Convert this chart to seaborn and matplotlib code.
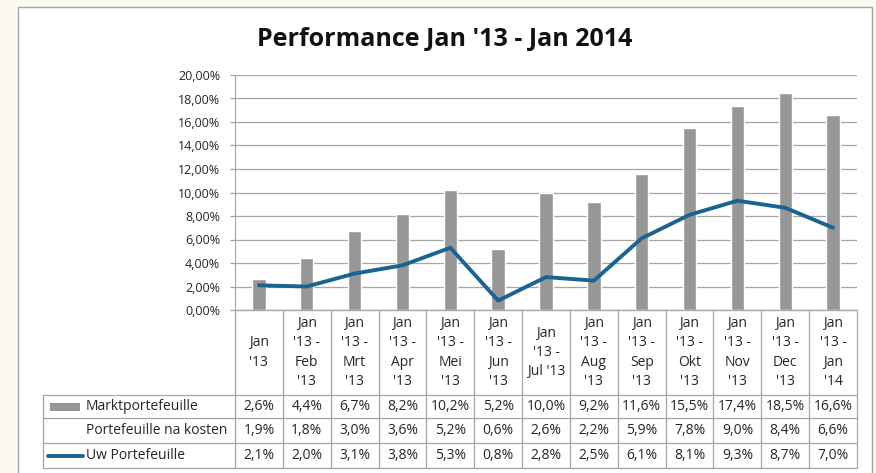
import matplotlib
matplotlib.use("Agg")
import matplotlib.pyplot as plt
from matplotlib.patches import Rectangle
from matplotlib.ticker import FuncFormatter, MultipleLocator
import seaborn as sns
import pandas as pd

# Data uit de tabel onder de grafiek
periodes = ["Jan\n'13", "Jan\n'13 -\nFeb\n'13", "Jan\n'13 -\nMrt\n'13", "Jan\n'13 -\nApr\n'13",
            "Jan\n'13 -\nMei\n'13", "Jan\n'13 -\nJun\n'13", "Jan\n'13 -\nJul '13", "Jan\n'13 -\nAug\n'13",
            "Jan\n'13 -\nSep\n'13", "Jan\n'13 -\nOkt\n'13", "Jan\n'13 -\nNov\n'13", "Jan\n'13 -\nDec\n'13",
            "Jan\n'13 -\nJan\n'14"]
markt = [2.6, 4.4, 6.7, 8.2, 10.2, 5.2, 10.0, 9.2, 11.6, 15.5, 17.4, 18.5, 16.6]
na_kosten = [1.9, 1.8, 3.0, 3.6, 5.2, 0.6, 2.6, 2.2, 5.9, 7.8, 9.0, 8.4, 6.6]
uw = [2.1, 2.0, 3.1, 3.8, 5.3, 0.8, 2.8, 2.5, 6.1, 8.1, 9.3, 8.7, 7.0]

df = pd.DataFrame({"periode": periodes, "markt": markt, "kosten": na_kosten, "uw": uw})

sns.set_style("white")
plt.rcParams["font.family"] = ["Open Sans", "DejaVu Sans"]

GRIJS = "#979797"
BLAUW = "#1a6491"
LIJN = "#a6a6a6"
TEKST = "#262626"
FS = 10

W, H = 876, 473
fig = plt.figure(figsize=(W / 100, H / 100), dpi=100, facecolor="#fbf9f2")

# witte grafiekruimte met rand
fig.patches.append(Rectangle((18 / W, -0.02), 854 / W, 1.02 - 7 / H, transform=fig.transFigure,
                             facecolor="white", edgecolor=LIJN, linewidth=1.0, zorder=-10))

fig.text(445 / W, 1 - 39 / H, "Performance Jan '13 - Jan 2014", ha="center", va="center",
         fontsize=18, fontweight="bold", color="#111111")

ax = fig.add_axes([235 / W, 1 - 310 / H, 622 / W, 235 / H])
sns.barplot(data=df, x="periode", y="markt", color=GRIJS, width=0.28, saturation=1, ax=ax, zorder=2)
sns.lineplot(data=df, x="periode", y="uw", color=BLAUW, linewidth=2.8, sort=False, ax=ax, zorder=3)

ax.set_ylim(0, 20)
ax.set_xlim(-0.5, len(periodes) - 0.5)
ax.yaxis.set_major_locator(MultipleLocator(2))
ax.yaxis.set_major_formatter(FuncFormatter(lambda v, p: f"{v:.2f}%".replace(".", ",")))
ax.grid(axis="y", color=LIJN, linewidth=0.9, zorder=0)
ax.set_axisbelow(True)
ax.set_xlabel("")
ax.set_ylabel("")
ax.set_xticklabels([])
ax.tick_params(axis="x", length=0)
ax.tick_params(axis="y", length=3.6, width=0.9, color=LIJN, labelsize=9, labelcolor=TEKST, pad=7, left=True)
for s in ["top", "right"]:
    ax.spines[s].set_visible(False)
ax.spines["left"].set_color(LIJN)
ax.spines["bottom"].set_color(LIJN)
ax.set_facecolor("none")

# datatabel
colw = 622 / len(periodes)
tab = fig.add_axes([235 / W, 1 - 468 / H, 622 / W, 158 / H])
tab.set_xlim(-0.5, len(periodes) - 0.5)
tab.set_ylim(0, 158)
tab.axis("off")
tab.patch.set_alpha(0)


def px2x(px):
    return -0.5 + (px - 235) / colw


rij_grenzen = [0, 25, 50, 73, 158]
links = px2x(43)
rechts = len(periodes) - 0.5
kw = dict(color=LIJN, linewidth=0.9, clip_on=False)
for y in rij_grenzen[:4]:
    tab.plot([links, rechts], [y, y], **kw)
tab.plot([-0.5, rechts], [158, 158], **kw)
tab.plot([links, links], [0, 73], **kw)
for i in range(len(periodes) + 1):
    tab.plot([i - 0.5, i - 0.5], [0, 158], **kw)

for i, lab in enumerate(periodes):
    tab.text(i, 115.5, lab, ha="center", va="center", fontsize=FS, color=TEKST,
             linespacing=1.4, clip_on=False)

rijen = [("Marktportefeuille", markt, 61.5), ("Portefeuille na kosten", na_kosten, 37.5),
         ("Uw Portefeuille", uw, 12.5)]
for naam, waarden, yc in rijen:
    tab.text(px2x(86), yc, naam, ha="left", va="center", fontsize=FS, color=TEKST, clip_on=False)
    for i, v in enumerate(waarden):
        tab.text(i, yc, f"{v:.1f}%".replace(".", ","), ha="center", va="center",
                 fontsize=FS, color=TEKST, clip_on=False)

# legendasleutels
tab.add_patch(Rectangle((px2x(50), 57.5), px2x(80) - px2x(50), 8, facecolor=GRIJS,
                        edgecolor="none", clip_on=False))
tab.plot([px2x(48), px2x(83)], [12.5, 12.5], color=BLAUW, linewidth=2.8, clip_on=False)

fig.savefig("out.png", dpi=100, facecolor=fig.get_facecolor())
